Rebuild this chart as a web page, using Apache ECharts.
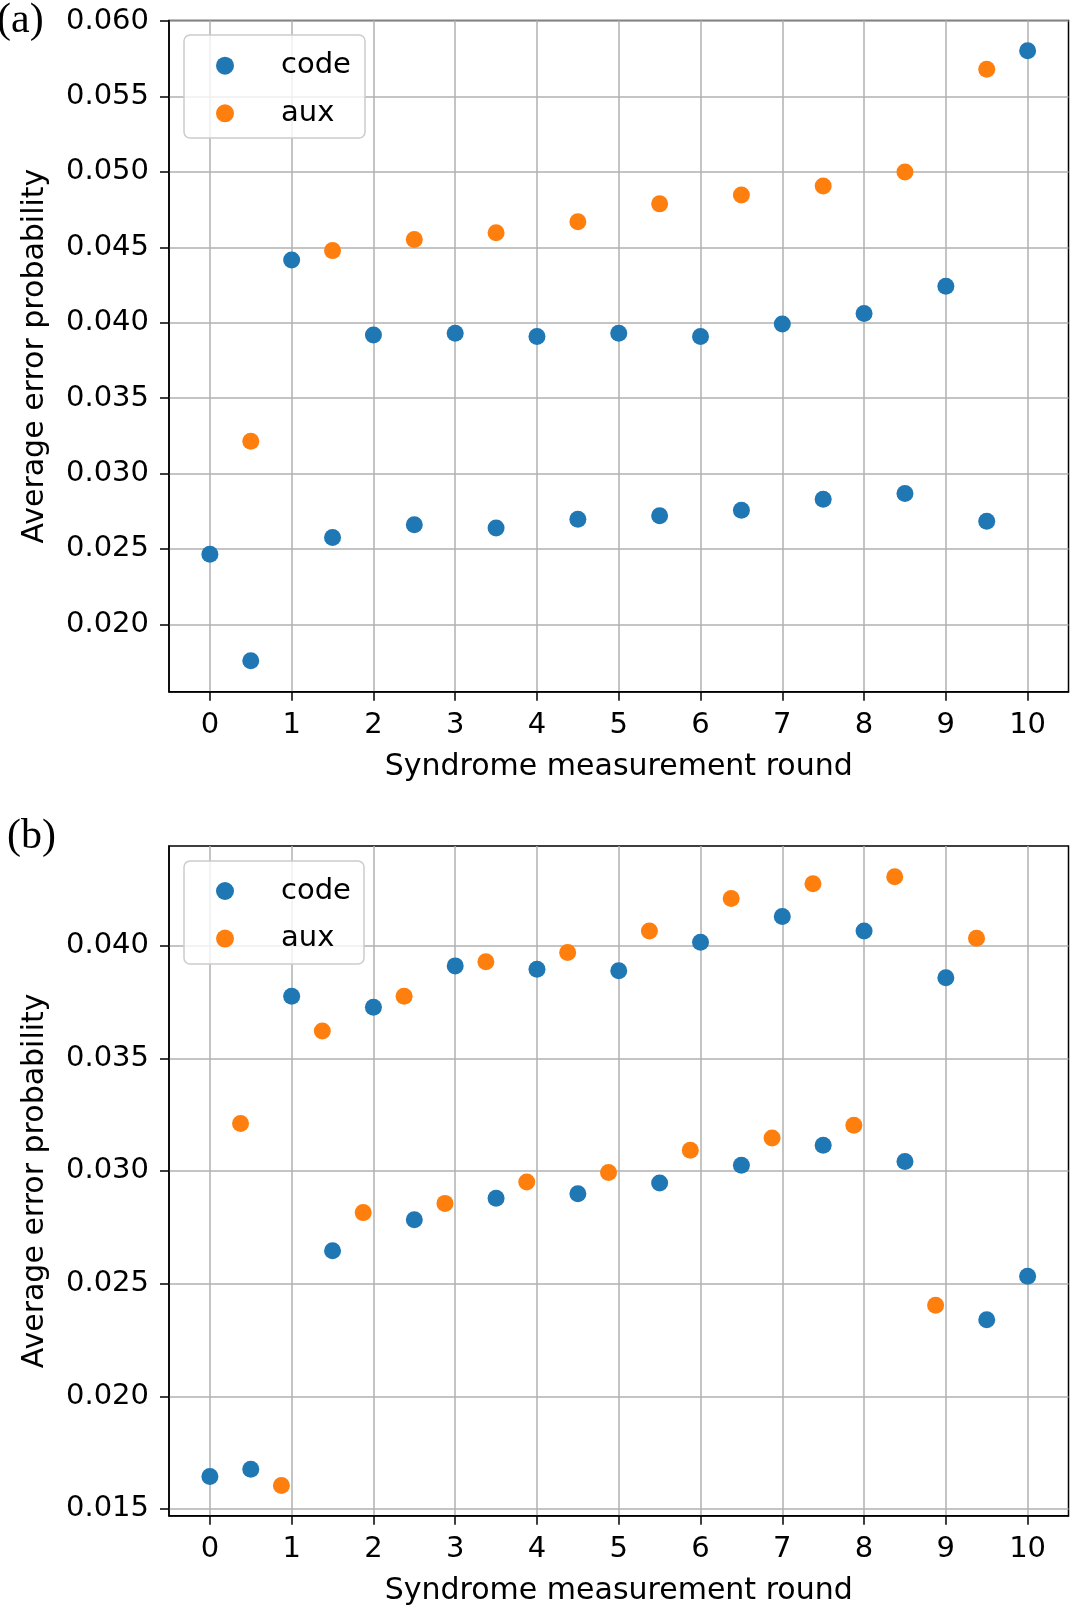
<!DOCTYPE html>
<html><head><meta charset="utf-8">
<script src="https://cdn.jsdelivr.net/npm/echarts@6/dist/echarts.min.js"></script>
<style>html,body{margin:0;padding:0;background:#fff}#c{width:1071px;height:1609px}</style>
</head><body><div id="c"></div>
<script>
// ---- data ----
const xTicks = [0, 1, 2, 3, 4, 5, 6, 7, 8, 9, 10];
const yTicksA = [0.020, 0.025, 0.030, 0.035, 0.040, 0.045, 0.050, 0.055, 0.060];
const yTicksB = [0.015, 0.020, 0.025, 0.030, 0.035, 0.040];

// panel (a)
const codeXA = [0, 0.5, 1, 1.5, 2, 2.5, 3, 3.5, 4, 4.5, 5, 5.5, 6, 6.5, 7, 7.5, 8, 8.5, 9, 9.5, 10];
const codeYA = [0.02464, 0.01759, 0.04416, 0.02576, 0.03919, 0.02660, 0.03930, 0.02638, 0.03908, 0.02696,
                0.03930, 0.02720, 0.03908, 0.02756, 0.03991, 0.02829, 0.04061, 0.02867, 0.04241, 0.02684, 0.05804];
const auxXA = [0.5, 1.5, 2.5, 3.5, 4.5, 5.5, 6.5, 7.5, 8.5, 9.5];
const auxYA = [0.03214, 0.04478, 0.04551, 0.04597, 0.04670, 0.04788, 0.04847, 0.04906, 0.05000, 0.05681];

// panel (b)
const codeXB = [0, 0.5, 1, 1.5, 2, 2.5, 3, 3.5, 4, 4.5, 5, 5.5, 6, 6.5, 7, 7.5, 8, 8.5, 9, 9.5, 10];
const codeYB = [0.01644, 0.01676, 0.03775, 0.02646, 0.03726, 0.02783, 0.03910, 0.02879, 0.03895, 0.02899,
                0.03888, 0.02946, 0.04015, 0.03025, 0.04129, 0.03114, 0.04065, 0.03042, 0.03857, 0.02340, 0.02533];
const auxXB = [0.375, 0.875, 1.375, 1.875, 2.375, 2.875, 3.375, 3.875, 4.375, 4.875,
               5.375, 5.875, 6.375, 6.875, 7.375, 7.875, 8.375, 8.875, 9.375];
const auxYB = [0.03210, 0.01604, 0.03621, 0.02815, 0.03775, 0.02856, 0.03928, 0.02951, 0.03969, 0.02993,
               0.04065, 0.03092, 0.04209, 0.03146, 0.04274, 0.03203, 0.04306, 0.02404, 0.04033];

const xName = 'Syndrome measurement round';
const yName = 'Average error probability';

// ---- chart ----
const FONT = 'DejaVu Sans';
const pair = (xs, ys) => xs.map((x, i) => [x, ys[i]]);

function xAxisOpt(gi) {
  return {
    gridIndex: gi, type: 'value', min: -0.5, max: 10.5, splitNumber: 11,
    name: xName, nameLocation: 'middle', nameGap: 60.5,
    nameTextStyle: {fontFamily: FONT, fontSize: 30, color: '#000'},
    axisLine: {show: true, onZero: false, lineStyle: {color: '#000', width: 1.5}},
    axisTick: {show: true, length: 9, customValues: xTicks, lineStyle: {color: '#000', width: 1.5}},
    axisLabel: {customValues: xTicks, fontFamily: FONT, fontSize: 29, color: '#000', margin: 19,
      formatter: v => String(v)},
    splitLine: {show: true, lineStyle: {color: '#b0b0b0', width: 1.5}}
  };
}
function yAxisOpt(gi, mn, mx, sn, ticks) {
  return {
    gridIndex: gi, type: 'value', min: mn, max: mx, splitNumber: sn,
    name: yName, nameLocation: 'middle', nameGap: 118.5,
    nameTextStyle: {fontFamily: FONT, fontSize: 30, color: '#000'},
    axisLine: {show: true, onZero: false, lineStyle: {color: '#000', width: 1.5}},
    axisTick: {show: true, length: 9, customValues: ticks, lineStyle: {color: '#000', width: 1.5}},
    axisLabel: {customValues: ticks, fontFamily: FONT, fontSize: 29, color: '#000', margin: 20,
      formatter: v => v.toFixed(3)},
    splitLine: {show: true, lineStyle: {color: '#b0b0b0', width: 1.5}}
  };
}
function legendOpt(top) {
  return {
    data: ['code', 'aux'], orient: 'vertical', left: 216, top: top, padding: 0,
    itemWidth: 18, itemHeight: 18, itemGap: 17.6, icon: 'circle', selectedMode: false,
    textStyle: {fontFamily: FONT, fontSize: 29, color: '#000', lineHeight: 30, padding: [0, 0, 0, 42]},
    z: 20
  };
}
const dot = (name, xi, data, color, z) => ({
  type: 'scatter', name, xAxisIndex: xi, yAxisIndex: xi, data, symbolSize: 17,
  itemStyle: {color, opacity: 1}, z, emphasis: {disabled: true}, animation: false
});

const chart = echarts.init(document.getElementById('c'), null, {renderer: 'canvas'});
chart.setOption({
  animation: false,
  backgroundColor: '#fff',
  grid: [
    {left: 169, right: 2.5, top: 20.5, height: 671.2, show: true, borderColor: '#000', borderWidth: 1.5, containLabel: false},
    {left: 169, right: 2.5, top: 846, height: 669.7, show: true, borderColor: '#000', borderWidth: 1.5, containLabel: false}
  ],
  xAxis: [xAxisOpt(0), xAxisOpt(1)],
  yAxis: [yAxisOpt(0, 0.01553, 0.06004, 9, yTicksA), yAxisOpt(1, 0.0147, 0.04442, 6, yTicksB)],
  legend: [legendOpt(50.7), legendOpt(876)],
  graphic: [
    {type: 'rect', shape: {x: 184, y: 35, width: 181, height: 103, r: 6}, z: 10,
     style: {fill: 'rgba(255,255,255,0.8)', stroke: '#cccccc', lineWidth: 1.5}},
    {type: 'rect', shape: {x: 184, y: 861, width: 180, height: 103, r: 6}, z: 10,
     style: {fill: 'rgba(255,255,255,0.8)', stroke: '#cccccc', lineWidth: 1.5}},
    {type: 'text', x: -3, y: 21, z: 10, style: {text: '(a)', fontFamily: 'Liberation Serif', fontSize: 42, fill: '#000', textVerticalAlign: 'middle', textAlign: 'left'}},
    {type: 'text', x: 7, y: 837, z: 10, style: {text: '(b)', fontFamily: 'Liberation Serif', fontSize: 42, fill: '#000', textVerticalAlign: 'middle', textAlign: 'left'}}
  ],
  series: [
    dot('code', 0, pair(codeXA, codeYA), '#1f77b4', 2),
    dot('aux', 0, pair(auxXA, auxYA), '#ff7f0e', 3),
    dot('code', 1, pair(codeXB, codeYB), '#1f77b4', 2),
    dot('aux', 1, pair(auxXB, auxYB), '#ff7f0e', 3)
  ]
});
</script></body></html>
